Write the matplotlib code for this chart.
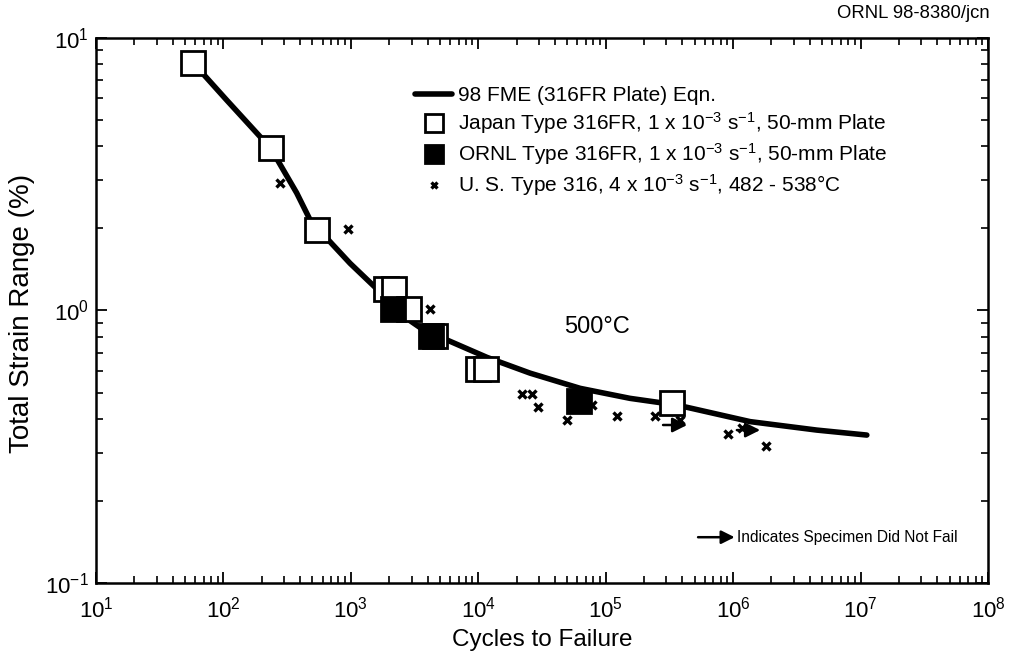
import matplotlib
matplotlib.use("Agg")
import matplotlib.pyplot as plt
from matplotlib.ticker import FixedLocator, LogLocator, NullFormatter, LogFormatterSciNotation

plt.rcParams['font.family'] = ['Liberation Sans', 'DejaVu Sans']
plt.rcParams['mathtext.fontset'] = 'custom'
plt.rcParams['mathtext.rm'] = 'Liberation Sans'
plt.rcParams['mathtext.it'] = 'Liberation Sans:italic'
plt.rcParams['mathtext.bf'] = 'Liberation Sans:bold'

# ---- data ----
curve_x = [58, 106, 235, 376, 479, 708, 986, 1694, 2740, 4300, 5660, 11700, 25500,
           63000, 155000, 361000, 1.36e6, 4.54e6, 1.12e7]
curve_y = [8.1, 5.92, 3.94, 2.70, 2.15, 1.76, 1.49, 1.17, 0.936, 0.81, 0.78, 0.673,
           0.589, 0.518, 0.476, 0.45, 0.391, 0.364, 0.349]

japan_x = [58, 235, 546, 1900, 2200, 2877, 4580, 10000, 11500, 330000]
japan_y = [8.1, 3.94, 1.97, 1.20, 1.20, 1.01, 0.806, 0.608, 0.608, 0.459]

ornl_x = [2157, 4250, 62200]
ornl_y = [1.01, 0.806, 0.467]

us_x = [278, 955, 4190, 21900, 26300, 29600, 50000, 77800, 123600, 244000,
        384000, 918000, 1.17e6, 1.82e6]
us_y = [2.93, 1.99, 1.01, 0.494, 0.494, 0.444, 0.397, 0.45, 0.411, 0.411,
        0.397, 0.352, 0.37, 0.318]

runout_start_x = [282000, 1.07e6]
runout_end_x = [436000, 1.63e6]
runout_y = [0.38, 0.364]

x_ticks = [1e1, 1e2, 1e3, 1e4, 1e5, 1e6, 1e7, 1e8]
y_ticks = [1e-1, 1e0, 1e1]

labels = ["98 FME (316FR Plate) Eqn.",
          r"Japan Type 316FR, 1 x 10$^{-3}$ s$^{-1}$, 50-mm Plate",
          r"ORNL Type 316FR, 1 x 10$^{-3}$ s$^{-1}$, 50-mm Plate",
          r"U. S. Type 316, 4 x 10$^{-3}$ s$^{-1}$, 482 - 538°C"]

fig = plt.figure(figsize=(10.10, 6.64), dpi=100)
ax = fig.add_axes([0.0950, 0.1220, 0.8832, 0.8208])

ax.set_xscale('log')
ax.set_yscale('log')
ax.set_xlim(x_ticks[0], x_ticks[-1])
ax.set_ylim(y_ticks[0], y_ticks[-1])

l_curve, = ax.plot(curve_x, curve_y, color='black', lw=4.0, solid_capstyle='round',
                   solid_joinstyle='round', zorder=2)
l_japan, = ax.plot(japan_x, japan_y, ls='none', marker='s', ms=17, mfc='white',
                   mec='black', mew=2.0, zorder=3)
l_ornl, = ax.plot(ornl_x, ornl_y, ls='none', marker='s', ms=17, mfc='black',
                  mec='black', mew=2.0, zorder=4)
l_us, = ax.plot(us_x, us_y, ls='none', marker='x', ms=6, mec='black', mew=2.4, zorder=5)

for xs, xe, yy in zip(runout_start_x, runout_end_x, runout_y):
    ax.annotate('', xy=(xe, yy), xytext=(xs, yy),
                arrowprops=dict(arrowstyle='-|>', lw=1.8, color='black',
                                mutation_scale=22, shrinkA=0, shrinkB=0), zorder=6)

leg = ax.legend([l_curve, l_japan, l_ornl, l_us], labels, loc='upper left',
                bbox_to_anchor=(0.358, 0.912), frameon=False, fontsize=15,
                handlelength=1.78, handletextpad=0.25, labelspacing=0.25,
                borderpad=0, borderaxespad=0, markerscale=0.75)

ax.text(85000, 0.873, "500°C", ha='center', va='center', fontsize=17)

ax.annotate('', xy=(0.716, 0.084), xytext=(0.675, 0.084), xycoords='axes fraction',
            arrowprops=dict(arrowstyle='-|>', lw=1.8, color='black',
                            mutation_scale=20, shrinkA=0, shrinkB=0))
ax.text(0.966, 0.084, "Indicates Specimen Did Not Fail", transform=ax.transAxes,
        ha='right', va='center', fontsize=11.2)

fig.text(0.980, 0.980, "ORNL 98-8380/jcn", ha='right', va='center', fontsize=13.3)

ax.set_xlabel("Cycles to Failure", fontsize=17.5)
ax.set_ylabel("Total Strain Range (%)", fontsize=20)
ax.xaxis.set_label_coords(0.5, -0.085)
ax.yaxis.set_label_coords(-0.068, 0.495)

ax.xaxis.set_major_locator(FixedLocator(x_ticks))
ax.yaxis.set_major_locator(FixedLocator(y_ticks))
ax.xaxis.set_major_formatter(LogFormatterSciNotation())
ax.yaxis.set_major_formatter(LogFormatterSciNotation())
ax.xaxis.set_minor_locator(LogLocator(base=10, subs=range(2, 10), numticks=20))
ax.yaxis.set_minor_locator(LogLocator(base=10, subs=range(2, 10), numticks=20))
ax.xaxis.set_minor_formatter(NullFormatter())
ax.yaxis.set_minor_formatter(NullFormatter())

ax.tick_params(which='both', direction='in', top=True, right=True, colors='black')
ax.tick_params(which='major', length=8, width=1.3, labelsize=16)
ax.tick_params(which='minor', length=5, width=1.2)
ax.tick_params(axis='x', which='major', pad=10)
ax.tick_params(axis='y', which='major', pad=5)
for s in ax.spines.values():
    s.set_linewidth(1.8)

fig.savefig("out.png", dpi=100)
